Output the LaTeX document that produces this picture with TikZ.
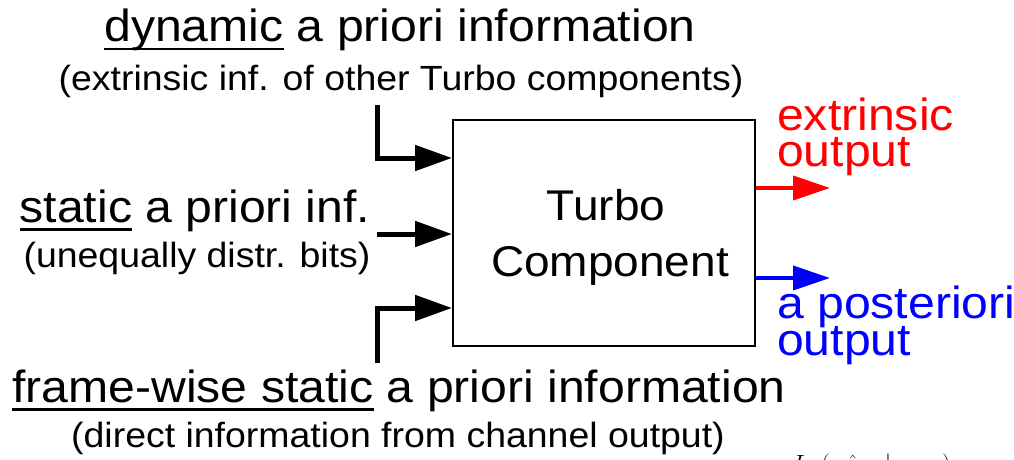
\documentclass[tikz,border=0pt]{standalone}
\usepackage{fontspec}
\setmainfont{Liberation Sans}
\usetikzlibrary{arrows.meta}
\newsavebox\ulbox
\newcommand\ulword[1]{\sbox\ulbox{#1}\rlap{\rule[-8.5pt]{\wd\ulbox}{2.6pt}}\usebox\ulbox}
\newcommand\fs[1]{\fontsize{#1}{#1}\selectfont}
% text set slightly wide
\newcommand\tx[2]{\scalebox{1.07}[1]{\fs{#1}#2}}
\begin{document}
\begin{tikzpicture}[x=1pt,y=-1pt,
  lbl/.style={inner sep=0pt,anchor=base},
  lblw/.style={inner sep=0pt,anchor=base west},
  inarrow/.style={line width=5pt,-{Triangle[length=37pt,width=25pt]}},
  outarrow/.style={line width=4pt,-{Triangle[length=37pt,width=24pt]}}]
\useasboundingbox (0,0) rectangle (1014,460);
\clip (0,0) rectangle (1014,460);

% central block
\node[draw,line width=2pt,minimum width=302pt,minimum height=226pt,inner sep=0pt] (box) at (604,233) {};
\node[lbl] (t1) at (606,220) {\tx{43}{Turbo}};
\node[lbl] (t2) at (610,276) {\tx{43}{Component}};

% input labels
\node[lbl] (dyn) at (400,42) {\tx{45}{\ulword{dynamic} a priori information}};
\node[lbl] (dyn2) at (401,90) {\tx{35}{(extrinsic inf. of other Turbo components)}};
\node[lbl] (sta) at (195,222) {\tx{45}{\ulword{static} a priori inf.}};
\node[lbl] (sta2) at (197,267) {\tx{35}{(unequally distr. bits)}};
\node[lbl] (fws) at (399,402) {\tx{45}{\ulword{frame-wise static} a priori information}};
\node[lbl] (fws2) at (398,447) {\tx{35}{(direct information from channel output)}};

% output labels
\node[lblw,text=red] (ext) at (777,130) {\tx{45}{extrinsic}};
\node[lblw,text=red] (ext2) at (777,166) {\tx{45}{output}};
\node[lblw,text=blue] (apo) at (777,318) {\tx{45}{a posteriori}};
\node[lblw,text=blue] (apo2) at (777,355) {\tx{45}{output}};

% mutual information term at the lower edge
\node[lblw] (miI) at (792,472) {\fs{44}$I$};
\node[lblw] (miL) at (821,472) {\fs{44}$($};
\node[lblw] (miX) at (845,472) {\fs{44}$\hat{x}$};
\node[lbl] (miB) at (888,472) {\fs{44}$\big|$};
\node[inner sep=0pt,anchor=base east] (miR) at (951,472) {\fs{44}$y)$};

% input connectors
\coordinate (a1) at (377,105);
\coordinate (a2) at (377,234);
\coordinate (a3) at (377,363);
\draw[inarrow] (a1) |- (box.west |- 0,158);
\draw[inarrow] (a2) -- (box.west |- a2);
\draw[inarrow] (a3) |- (box.west |- 0,308);

% output connectors
\coordinate (e1) at (830,188);
\coordinate (e2) at (830,278);
\draw[outarrow,red] (box.east |- e1) -- (e1);
\draw[outarrow,blue] (box.east |- e2) -- (e2);
\end{tikzpicture}
\end{document}
